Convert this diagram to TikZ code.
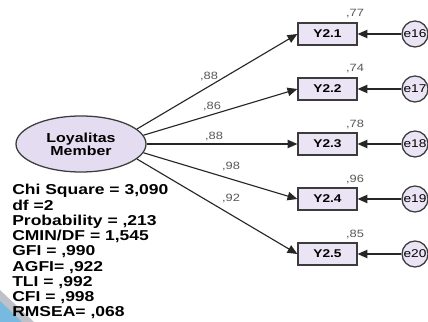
\documentclass[tikz,border=0pt]{standalone}
\usepackage{fontspec}
\setmainfont[FakeStretch=1.22]{Liberation Sans}
\usetikzlibrary{arrows.meta}
\usetikzlibrary{shapes.geometric}
\definecolor{latfill}{RGB}{228,220,240}
\definecolor{boxfill}{RGB}{234,228,244}
\definecolor{edgegray}{RGB}{60,60,60}
\definecolor{swoopgray}{RGB}{190,194,200}
\definecolor{swoopblue}{RGB}{120,185,225}

\begin{document}
\begin{tikzpicture}[x=0.25mm,y=-0.25mm,
  latent/.style={ellipse,draw=edgegray,line width=0.9pt,fill=latfill,minimum width=32.5mm,minimum height=14mm,inner sep=0pt,align=center,font=\bfseries\fontsize{9.3}{9.3}\selectfont},
  obsbox/.style={rectangle,draw=edgegray,line width=0.9pt,fill=boxfill,minimum width=14.75mm,minimum height=5.5mm,inner sep=0pt,font=\bfseries\fontsize{8}{9}\selectfont},
  errcirc/.style={circle,draw=edgegray,line width=0.9pt,fill=boxfill,minimum size=6.5mm,inner sep=0pt,font=\fontsize{8}{9}\selectfont},
  loadarrow/.style={draw=black!85,line width=0.8pt,-{Triangle[length=7pt,width=6pt]}},
  coef/.style={inner sep=0pt,font=\fontsize{7.5}{8}\selectfont,text=black!65},
  fitstat/.style={anchor=base west,inner sep=0pt,font=\bfseries\fontsize{10.2}{11}\selectfont}]
\useasboundingbox (0,0) rectangle (428,322);
\fill[white] (0,0) rectangle (428,322);

% slide background corner
\fill[swoopgray] (0,290) -- (34,322) -- (0,322) -- cycle;
\fill[swoopblue] (0,301) -- (22,322) -- (0,322) -- cycle;

\node[latent] (LM) at (81,144) {Loyalitas\\Member};

\node[obsbox] (Y1) at (327.5,34) {Y2.1};
\node[obsbox] (Y2) at (327.5,89) {Y2.2};
\node[obsbox] (Y3) at (327.5,144) {Y2.3};
\node[obsbox] (Y4) at (327.5,199) {Y2.4};
\node[obsbox] (Y5) at (327.5,254) {Y2.5};

\node[errcirc] (E1) at (415,34) {e16};
\node[errcirc] (E2) at (415,89) {e17};
\node[errcirc] (E3) at (415,144) {e18};
\node[errcirc] (E4) at (415,199) {e19};
\node[errcirc] (E5) at (415,254) {e20};

\draw[loadarrow] (LM.15) -- (Y1.west);
\draw[loadarrow] (LM.8) -- (Y2.west);
\draw[loadarrow] (LM.east) -- (Y3.west);
\draw[loadarrow] (LM.-8) -- (Y4.west);
\draw[loadarrow] (LM.-15) -- (Y5.west);

\draw[loadarrow] (E1) -- (Y1);
\draw[loadarrow] (E2) -- (Y2);
\draw[loadarrow] (E3) -- (Y3);
\draw[loadarrow] (E4) -- (Y4);
\draw[loadarrow] (E5) -- (Y5);

% standardized loadings
\node[coef] (L1) at (209,76) {,88};
\node[coef] (L2) at (212,106) {,86};
\node[coef] (L3) at (214,136) {,88};
\node[coef] (L4) at (231,166) {,98};
\node[coef] (L5) at (231,198) {,92};

% squared multiple correlations
\node[coef] (R1) at (355,14) {,77};
\node[coef] (R2) at (355,69) {,74};
\node[coef] (R3) at (355,124) {,78};
\node[coef] (R4) at (355,179) {,96};
\node[coef] (R5) at (355,234) {,85};

% fit indices
\node[fitstat] (F1) at (12,195) {Chi Square = 3,090};
\node[fitstat] (F2) at (12,210.25) {df =2};
\node[fitstat] (F3) at (12,225.5) {Probability = ,213};
\node[fitstat] (F4) at (12,240.75) {CMIN/DF = 1,545};
\node[fitstat] (F5) at (12,256) {GFI = ,990};
\node[fitstat] (F6) at (12,271.25) {AGFI= ,922};
\node[fitstat] (F7) at (12,286.5) {TLI = ,992};
\node[fitstat] (F8) at (12,301.75) {CFI = ,998};
\node[fitstat] (F9) at (12,317) {RMSEA= ,068};

\end{tikzpicture}
\end{document}
